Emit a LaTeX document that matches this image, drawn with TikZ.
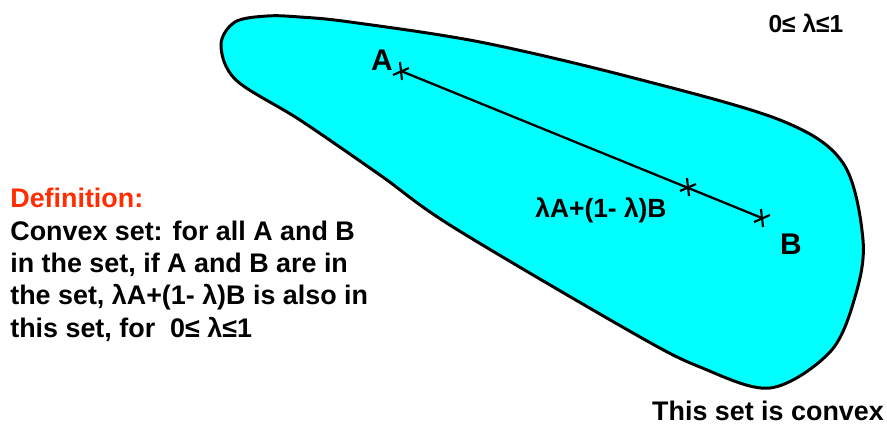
\documentclass[tikz,border=0pt]{standalone}
\usepackage{fontspec}
\setmainfont{Liberation Sans}
\usepackage{tikz}
\usetikzlibrary{positioning}
\usepackage{xcolor}
\definecolor{setcyan}{RGB}{0,255,255}
\definecolor{defred}{RGB}{255,45,0}

\begin{document}
\begin{tikzpicture}[x=0.02cm, y=-0.02cm,
    blob/.style={draw=black, line width=1.7pt, fill=setcyan},
    seg/.style={line width=1.3pt},
    ptlabel/.style={font=\fontsize{17}{20}\selectfont\bfseries, inner sep=0pt},
    txt/.style={font=\fontsize{15.3}{18.4}\selectfont\bfseries, inner sep=0pt},
    crossmark/.pic={\draw[line width=1.2pt] (-8,4) -- (8,-3) (-1,-9) -- (1,9);}
]
\useasboundingbox (0,0) rectangle (887,427);

% the convex set
\draw[blob] plot[smooth cycle, tension=0.55] coordinates {
    (300,17) (350,22) (480,42) (630,77) (780,120) (843,163) (863,240) (855,297)
    (830,352) (770,388) (700,367) (633,333) (453,227) (380,175) (300,120)
    (236,80) (221,45) (235,22) (267,16)};

% points on the segment
\coordinate (A) at (401,71);
\coordinate (B) at (762,218);
\coordinate (M) at (688,187);
\draw[seg] (A) -- (B);
\pic at (A) {crossmark};
\pic at (M) {crossmark};
\pic at (B) {crossmark};

\node[ptlabel] (lblA) at (382,60) {A};
\node[ptlabel] (lblB) at (791,244) {B};
\node[txt, font=\fontsize{15}{18}\selectfont\bfseries] (lblM) at (601,210) {λA+(1- λ)B};

\node[txt, font=\fontsize{14}{17}\selectfont\bfseries] (range) at (806,23) {0≤ λ≤1};
\node[txt] (convex) at (768,411) {This set is convex};

\node[txt, anchor=north west, align=left] (def) at (10,188) {\textcolor{defred}{Definition:}\\
    Convex set: for all A and B\\
    in the set, if A and B are in\\
    the set, λA+(1- λ)B is also in\\
    this set, for\ \ 0≤ λ≤1};
\end{tikzpicture}
\end{document}
